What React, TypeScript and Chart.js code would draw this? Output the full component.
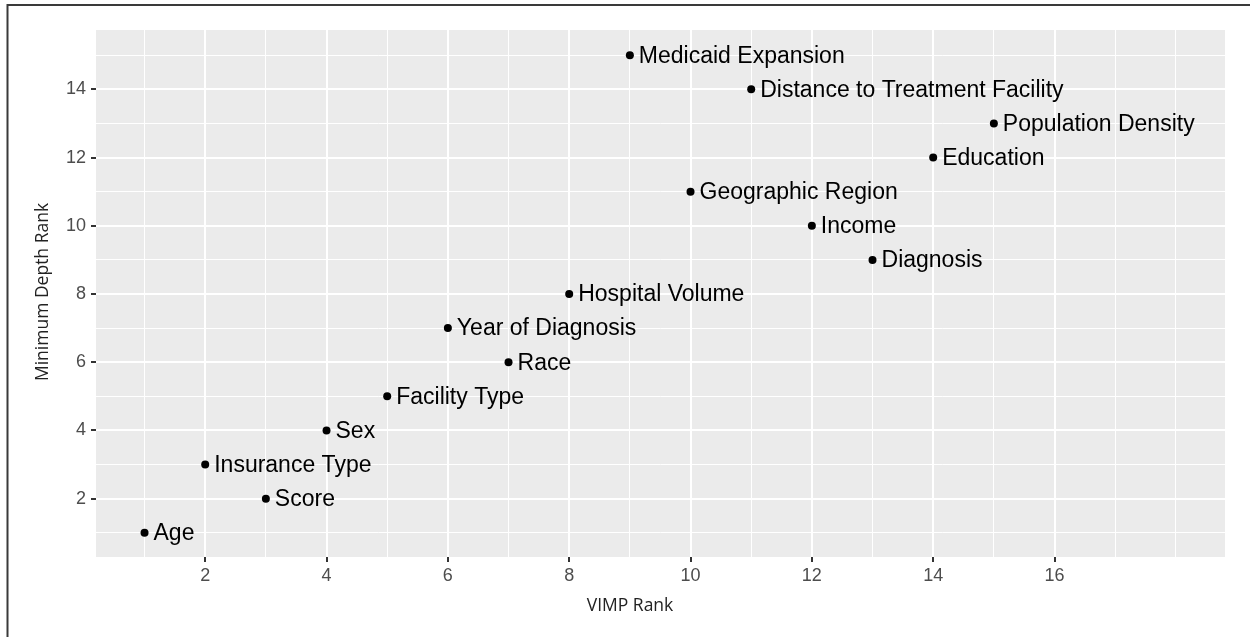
import React, { useEffect, useRef } from "react";
import { Chart, registerables } from "chart.js";

Chart.register(...registerables);

const variableNames = [
  "Age",
  "Score",
  "Insurance Type",
  "Sex",
  "Facility Type",
  "Race",
  "Year of Diagnosis",
  "Hospital Volume",
  "Diagnosis",
  "Income",
  "Geographic Region",
  "Education",
  "Population Density",
  "Distance to Treatment Facility",
  "Medicaid Expansion",
];
const vimpRank = [1, 3, 2, 4, 5, 7, 6, 8, 13, 12, 10, 14, 15, 11, 9];
const minDepthRank = [1, 2, 3, 4, 5, 6, 7, 8, 9, 10, 11, 12, 13, 14, 15];

const xTickValues = [1, 2, 3, 4, 5, 6, 7, 8, 9, 10, 11, 12, 13, 14, 15, 16, 17, 18];
const xMajorTicks = [2, 4, 6, 8, 10, 12, 14, 16];
const yTickValues = [1, 2, 3, 4, 5, 6, 7, 8, 9, 10, 11, 12, 13, 14, 15];
const yMajorTicks = [2, 4, 6, 8, 10, 12, 14];

const xTitle = "VIMP Rank";
const yTitle = "Minimum Depth Rank";

const PANEL_BG = "#EBEBEB";
const TICK_TEXT = "#4D4D4D";
const TICK_MARK = "#333333";

export default function App() {
  const canvasRef = useRef<HTMLCanvasElement | null>(null);

  useEffect(() => {
    const canvas = canvasRef.current;
    if (!canvas) return;

    const panelPlugin = {
      id: "panelBg",
      beforeDraw(chart: any) {
        const { ctx, chartArea } = chart;
        ctx.save();
        ctx.fillStyle = PANEL_BG;
        ctx.fillRect(chartArea.left, chartArea.top, chartArea.width, chartArea.height);
        ctx.restore();
      },
    };

    const labelsPlugin = {
      id: "pointLabels",
      afterDatasetsDraw(chart: any) {
        const { ctx } = chart;
        const meta = chart.getDatasetMeta(0);
        ctx.save();
        ctx.font = '23px "Liberation Sans", Arial, sans-serif';
        ctx.fillStyle = "#000000";
        ctx.textAlign = "left";
        ctx.textBaseline = "middle";
        meta.data.forEach((el: any, i: number) => {
          ctx.fillText(variableNames[i], el.x + 9, el.y + 1);
        });
        ctx.restore();
      },
    };

    const titlesPlugin = {
      id: "axisTitles",
      afterDraw(chart: any) {
        const { ctx, chartArea } = chart;
        ctx.save();
        ctx.font = '17.5px "Open Sans", sans-serif';
        ctx.fillStyle = "#222222";
        ctx.textAlign = "center";
        ctx.textBaseline = "middle";
        ctx.fillText(xTitle, chartArea.left + 534, chartArea.bottom + 49);
        ctx.translate(chartArea.left - 53, chartArea.top + 262);
        ctx.rotate(-Math.PI / 2);
        ctx.fillText(yTitle, 0, 0);
        ctx.restore();

        // frame lines (top & left)
        ctx.save();
        ctx.strokeStyle = "#3a3a3a";
        ctx.lineWidth = 2;
        ctx.beginPath();
        ctx.moveTo(chart.width, 5);
        ctx.lineTo(7.5, 5);
        ctx.lineTo(7.5, chart.height);
        ctx.stroke();
        ctx.restore();
      },
    };

    const isXMajor = (v: number) => xMajorTicks.includes(v);
    const isYMajor = (v: number) => yMajorTicks.includes(v);

    const chart = new Chart(canvas, {
      type: "scatter",
      data: {
        datasets: [
          {
            data: vimpRank.map((x, i) => ({ x, y: minDepthRank[i] })),
            backgroundColor: "#000000",
            borderColor: "#000000",
            pointRadius: 4,
            pointHoverRadius: 4,
            borderWidth: 0,
          },
        ],
      },
      options: {
        responsive: false,
        animation: false,
        layout: { padding: { top: 30, right: 25, left: 0, bottom: 0 } },
        plugins: {
          legend: { display: false },
          tooltip: { enabled: false },
        },
        scales: {
          x: {
            type: "linear",
            min: 0.2,
            max: 18.81,
            afterBuildTicks: (scale: any) => {
              scale.ticks = xTickValues.map((v) => ({ value: v }));
            },
            afterFit: (scale: any) => {
              scale.height = 80;
            },
            border: { display: false },
            grid: {
              color: "#FFFFFF",
              lineWidth: (c: any) => (isXMajor(c.tick?.value) ? 2 : 1),
              drawTicks: true,
              tickLength: 5,
              tickColor: (c: any) => (isXMajor(c.tick?.value) ? TICK_MARK : "rgba(0,0,0,0)"),
              tickWidth: 2,
            },
            ticks: {
              autoSkip: false,
              maxRotation: 0,
              padding: 3,
              color: TICK_TEXT,
              font: { family: '"Liberation Sans", Arial, sans-serif', size: 18 },
              callback: (v: any) => (isXMajor(Number(v)) ? String(v) : ""),
            },
          },
          y: {
            type: "linear",
            min: 0.29,
            max: 15.74,
            afterBuildTicks: (scale: any) => {
              scale.ticks = yTickValues.map((v) => ({ value: v }));
            },
            afterFit: (scale: any) => {
              scale.width = 96;
            },
            border: { display: false },
            grid: {
              color: "#FFFFFF",
              lineWidth: (c: any) => (isYMajor(c.tick?.value) ? 2 : 1),
              drawTicks: true,
              tickLength: 5,
              tickColor: (c: any) => (isYMajor(c.tick?.value) ? TICK_MARK : "rgba(0,0,0,0)"),
              tickWidth: 2,
            },
            ticks: {
              autoSkip: false,
              padding: 5,
              color: TICK_TEXT,
              font: { family: '"Liberation Sans", Arial, sans-serif', size: 18 },
              callback: (v: any) => (isYMajor(Number(v)) ? String(v) : ""),
            },
          },
        },
      },
      plugins: [panelPlugin, labelsPlugin, titlesPlugin],
    } as any);

    return () => {
      chart.destroy();
    };
  }, []);

  return (
    <div style={{ position: "fixed", left: 0, top: 0, width: 1250, height: 637, background: "#FFFFFF" }}>
      <canvas ref={canvasRef} width={1250} height={637} style={{ display: "block" }} />
    </div>
  );
}
